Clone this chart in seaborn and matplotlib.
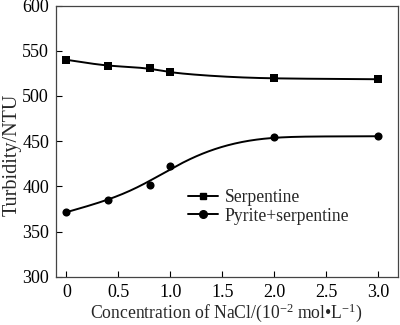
import numpy as np
import pandas as pd
import matplotlib
matplotlib.use("Agg")
import matplotlib.pyplot as plt
import seaborn as sns
from matplotlib.lines import Line2D

conc = [0, 0.4, 0.8, 1.0, 2.0, 3.0]
serpentine = [540, 533.5, 530.5, 526, 519.5, 518.5]
pyrite_serp = [371.5, 384.5, 401.5, 423, 455, 455.5]
xticks = [0, 0.5, 1.0, 1.5, 2.0, 2.5, 3.0]
xticklabels = ["0", "0.5", "1.0", "1.5", "2.0", "2.5", "3.0"]
yticks = [300, 350, 400, 450, 500, 550, 600]


def pchip(x, y, xn):
    """Monotone cubic (Fritsch-Carlson) curve through the data."""
    x = np.asarray(x, float); y = np.asarray(y, float)
    h = np.diff(x); d = np.diff(y) / h
    m = np.zeros_like(y)
    for k in range(1, len(x) - 1):
        if d[k - 1] * d[k] > 0:
            w1 = 2 * h[k] + h[k - 1]; w2 = h[k] + 2 * h[k - 1]
            m[k] = (w1 + w2) / (w1 / d[k - 1] + w2 / d[k])
    m[0] = d[0]
    m[-1] = d[-1]
    out = np.empty_like(xn)
    for i, xv in enumerate(xn):
        k = min(np.searchsorted(x, xv, side="right") - 1, len(x) - 2)
        t = (xv - x[k]) / h[k]
        h00 = 2 * t**3 - 3 * t**2 + 1; h10 = t**3 - 2 * t**2 + t
        h01 = -2 * t**3 + 3 * t**2; h11 = t**3 - t**2
        out[i] = h00 * y[k] + h10 * h[k] * m[k] + h01 * y[k + 1] + h11 * h[k] * m[k + 1]
    return out


def smooth_curve(x, y, xn, sigma):
    """Gaussian-smoothed version of the monotone curve (like the original's smoothed line)."""
    yc = pchip(x, y, xn)
    dx = xn[1] - xn[0]
    n = int(3 * sigma / dx)
    left = 2 * yc[0] - yc[1:n + 1][::-1]
    right = 2 * yc[-1] - yc[-n - 1:-1][::-1]
    ext = np.concatenate([left, yc, right])
    kx = np.arange(-n, n + 1) * dx
    ker = np.exp(-0.5 * (kx / sigma) ** 2)
    ker /= ker.sum()
    return np.convolve(ext, ker, mode="valid")


sns.set_style("ticks")
plt.rcParams['font.family'] = ['Liberation Serif', 'DejaVu Serif']
plt.rcParams['mathtext.fontset'] = 'custom'
plt.rcParams['mathtext.rm'] = 'Liberation Serif'
plt.rcParams['mathtext.it'] = 'Liberation Serif:italic'

fig = plt.figure(figsize=(4.0, 3.25), dpi=100)
ax = fig.add_axes([0.14, 0.148, 0.855, 0.835])

xs = np.linspace(conc[0], conc[-1], 301)
curves = pd.DataFrame({"x": xs, "s": smooth_curve(conc, serpentine, xs, 0.1),
                       "p": smooth_curve(conc, pyrite_serp, xs, 0.27)})
pts = pd.DataFrame({"x": conc, "s": serpentine, "p": pyrite_serp})

sns.lineplot(data=curves, x="x", y="s", color="black", lw=1.4, ax=ax)
sns.lineplot(data=curves, x="x", y="p", color="black", lw=1.4, ax=ax)
sns.scatterplot(data=pts, x="x", y="s", marker="s", color="black", s=28,
                linewidth=0, ax=ax)
sns.scatterplot(data=pts, x="x", y="p", marker="o", color="black", s=34,
                linewidth=0, ax=ax)

ax.set_xlim(-0.1, 3.19)
ax.set_ylim(300, 600)
ax.set_xticks(xticks)
ax.set_xticklabels(xticklabels)
ax.set_yticks(yticks)
ax.tick_params(direction="in", length=4, width=0.8, labelsize=13, colors="black",
               top=False, right=False, pad=5)
for sp in ax.spines.values():
    sp.set_color("#444444")
    sp.set_linewidth(0.9)

ax.set_xlabel("Concentration of NaCl/(10$^{-2}$ mol\u2022L$^{-1}$)", fontsize=12.7)
ax.xaxis.set_label_coords(0.497, -0.092)
ax.set_ylabel("Turbidity/NTU", fontsize=14.5)
ax.yaxis.set_label_coords(-0.1, 0.45)

handles = [Line2D([], [], color="black", marker="s", markersize=5, lw=1.4),
           Line2D([], [], color="black", marker="o", markersize=5.5, lw=1.4)]
ax.legend(handles, ["Serpentine", "Pyrite+serpentine"], frameon=False,
          loc="upper left", bbox_to_anchor=(0.36, 0.357), fontsize=12.7,
          handlelength=1.7, handletextpad=0.4, labelspacing=0.1, borderpad=0)

fig.savefig("out.png", dpi=100)
